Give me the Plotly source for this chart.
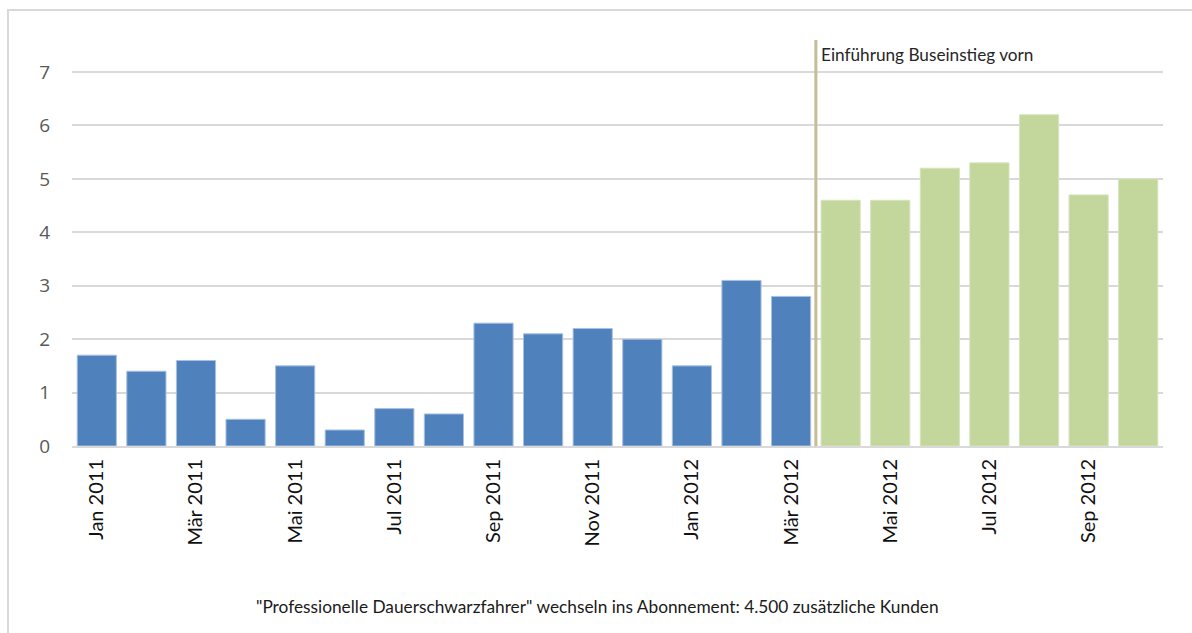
import plotly.graph_objects as go

# Monthly values, Jan 2011 - Oct 2012
months = ["Jan 2011", "Feb 2011", "Mär 2011", "Apr 2011", "Mai 2011", "Jun 2011",
          "Jul 2011", "Aug 2011", "Sep 2011", "Okt 2011", "Nov 2011", "Dez 2011",
          "Jan 2012", "Feb 2012", "Mär 2012", "Apr 2012", "Mai 2012", "Jun 2012",
          "Jul 2012", "Aug 2012", "Sep 2012", "Okt 2012"]
values = [1.7, 1.4, 1.6, 0.5, 1.5, 0.3, 0.7, 0.6, 2.3, 2.1, 2.2, 2.0,
          1.5, 3.1, 2.8, 4.6, 4.6, 5.2, 5.3, 6.2, 4.7, 5.0]
n_before = 15  # months before the front-door boarding was introduced

y_ticks = [0, 1, 2, 3, 4, 5, 6, 7]
marker_text = "Einführung Buseinstieg vorn"
caption = "\"Professionelle Dauerschwarzfahrer\" wechseln ins Abonnement: 4.500 zusätzliche Kunden"

idx = list(range(len(months)))
colors = ["#4F81BD"] * n_before + ["#C3D69B"] * (len(months) - n_before)
edge = ["#A9C1E0"] * n_before + ["#D6E4BE"] * (len(months) - n_before)

fig = go.Figure()
fig.add_trace(go.Bar(
    x=idx, y=values,
    marker=dict(color=colors, line=dict(color=edge, width=1)),
    hoverinfo="x+y", showlegend=False,
))

split_x = n_before - 0.5
fig.add_shape(type="line", xref="x", yref="paper", x0=split_x, x1=split_x, y0=0, y1=1,
              line=dict(color="#C4BD97", width=3))
fig.add_annotation(x=split_x, y=7.33, xref="x", yref="y", text=marker_text,
                   showarrow=False, xanchor="left", yanchor="middle", xshift=3,
                   font=dict(family="Lato", size=17.2, color="#262626"))
fig.add_annotation(x=0.482, y=-0.395, xref="paper", yref="paper", text=caption,
                   showarrow=False, xanchor="center", yanchor="middle",
                   font=dict(family="Lato", size=17.3, color="#1a1a1a"))

# outer chart frame
fig.add_shape(type="rect", xref="paper", yref="paper",
              x0=-64 / 1091, x1=1.05, y0=-0.5, y1=1.074,
              line=dict(color="#D9D9D9", width=2), fillcolor="rgba(0,0,0,0)", layer="below")

fig.update_layout(
    width=1192, height=633,
    margin=dict(l=72, r=29, t=40, b=187),
    paper_bgcolor="white", plot_bgcolor="white",
    bargap=0.21,
    font=dict(family="Open Sans"),
)
fig.update_xaxes(
    range=[-0.5, len(months) - 0.5],
    tickmode="array", tickvals=idx[::2], ticktext=months[::2],
    tickangle=-90, tickfont=dict(family="Lato", size=20, color="#111111"),
    showgrid=False, showline=True, linecolor="#D9D9D9", linewidth=2,
    ticks="", ticklabelstandoff=3, zeroline=False,
)
fig.update_yaxes(
    range=[0, 7.6], tickmode="array", tickvals=y_ticks,
    tickfont=dict(family="Open Sans", size=19, color="#595959"),
    showgrid=True, gridcolor="#D9D9D9", gridwidth=2,
    zeroline=False, showline=False, ticks="", ticklabelstandoff=21,
)

fig.write_html("out.html")
